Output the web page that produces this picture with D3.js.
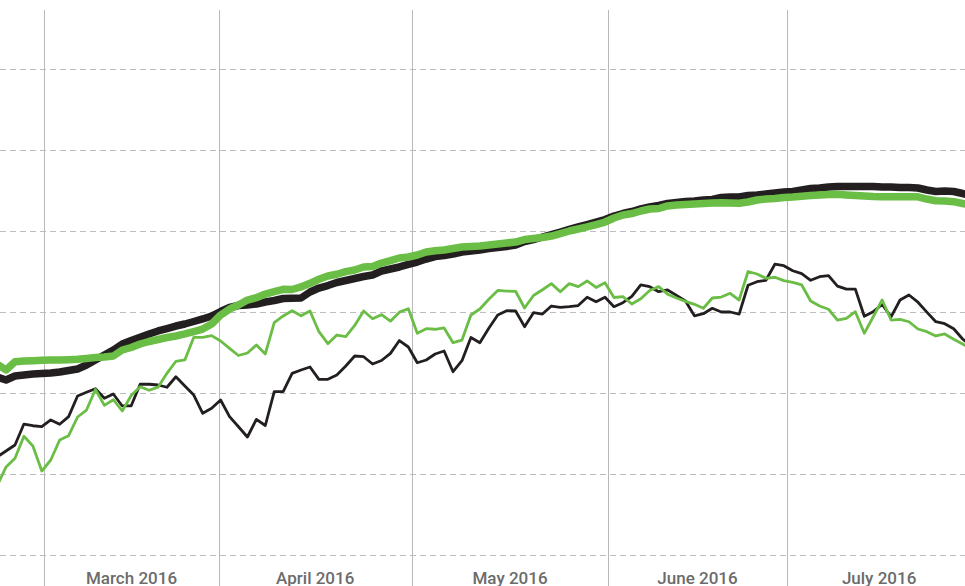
<!DOCTYPE html>
<html>
<head>
<meta charset="utf-8">
<script src="https://cdn.jsdelivr.net/npm/d3@7"></script>
<style>
  html, body { margin: 0; padding: 0; background: #ffffff; }
  svg { display: block; }
</style>
</head>
<body>
<div id="chart"></div>
<script>
// ---- data (index = trading-day position along the x axis) ----
const thinBlack = [12.16,12.90,13.64,16.23,16.02,15.90,16.73,16.20,17.14,19.69,
  20.15,20.59,19.41,19.94,18.46,18.49,21.14,21.14,21.05,20.77,
  22.07,20.93,19.81,17.56,18.17,19.20,17.14,15.90,14.63,16.81,
  16.05,20.22,20.22,22.49,22.90,23.27,21.75,21.75,22.28,23.40,
  24.63,24.54,23.64,24.07,24.96,26.54,25.74,23.80,24.14,24.88,
  25.25,22.69,24.05,26.91,26.27,28.05,29.69,30.22,30.19,28.25,
  29.98,29.81,30.80,30.64,30.72,30.86,31.88,31.33,31.88,30.72,
  31.21,32.00,33.40,33.19,32.57,32.78,32.12,31.42,29.59,29.85,
  30.52,30.06,30.06,29.79,33.36,33.80,33.98,35.96,35.78,35.15,
  34.79,33.98,34.42,34.56,33.25,32.88,32.88,29.53,30.10,30.99,
  29.47,31.54,32.16,31.27,30.04,28.86,28.62,27.99,26.73,25.86];

const thinGreen = [8.58,10.93,12.00,14.72,13.52,10.43,11.79,14.26,14.79,17.10,
  17.96,20.49,18.54,19.23,17.84,19.75,20.84,20.40,20.78,22.49,
  23.98,24.14,26.94,26.94,27.14,26.48,25.58,24.69,25.00,25.99,
  24.88,28.74,29.57,30.22,29.60,30.19,27.63,26.15,27.22,27.01,
  28.40,30.19,29.23,29.73,28.93,30.04,30.47,27.43,28.00,27.93,
  28.09,26.27,26.60,29.69,30.43,31.63,32.72,32.65,32.62,30.56,
  32.10,32.81,33.56,32.57,33.56,33.19,33.89,33.09,33.68,31.85,
  31.95,31.05,31.70,32.72,33.19,32.26,31.79,31.38,31.01,30.52,
  31.79,31.91,32.37,31.54,35.06,34.75,34.22,34.35,33.93,33.73,
  33.40,31.42,30.80,30.40,29.07,29.28,30.10,27.43,29.48,31.54,
  29.07,29.16,28.86,27.96,27.63,27.10,27.35,26.69,26.11,25.49];

const thickGreen = [23.64,22.90,23.93,24.01,24.05,24.10,24.14,24.14,24.17,24.22,
  24.32,24.44,24.51,24.63,25.37,25.68,26.11,26.42,26.67,26.91,
  27.10,27.35,27.65,27.96,28.58,29.69,30.43,30.93,31.54,31.83,
  32.28,32.57,32.86,32.84,33.15,33.60,34.10,34.51,34.72,35.04,
  35.25,35.62,35.68,36.11,36.40,36.73,36.85,37.10,37.47,37.63,
  37.72,37.90,38.09,38.15,38.21,38.33,38.46,38.58,38.70,39.01,
  39.14,39.26,39.44,39.75,40.06,40.31,40.56,40.86,41.17,41.67,
  42.04,42.22,42.53,42.78,42.84,43.15,43.27,43.33,43.40,43.46,
  43.52,43.56,43.52,43.48,43.64,43.89,44.01,44.07,44.20,44.26,
  44.35,44.44,44.51,44.57,44.59,44.51,44.44,44.38,44.32,44.30,
  44.30,44.30,44.30,44.28,44.01,43.80,43.77,43.68,43.46,43.27];

const thickBlack = [22.04,21.67,22.16,22.28,22.41,22.47,22.53,22.65,22.84,23.02,
  23.52,24.14,24.75,25.37,26.11,26.54,26.94,27.35,27.72,28.02,
  28.33,28.58,28.89,29.20,29.57,30.12,30.62,30.86,30.93,31.05,
  31.30,31.48,31.73,31.75,31.79,32.53,33.02,33.33,33.70,33.95,
  34.20,34.44,34.63,35.12,35.37,35.62,35.93,36.23,36.60,36.91,
  37.04,37.22,37.47,37.59,37.72,37.90,38.02,38.15,38.33,38.77,
  39.01,39.32,39.63,39.94,40.25,40.56,40.86,41.17,41.48,41.91,
  42.22,42.47,42.78,43.02,43.21,43.46,43.58,43.70,43.77,43.89,
  43.95,44.20,44.26,44.26,44.44,44.50,44.62,44.75,44.88,44.94,
  45.12,45.31,45.37,45.49,45.56,45.56,45.56,45.56,45.56,45.49,
  45.49,45.43,45.43,45.37,45.12,44.94,45.00,44.94,44.69,44.44];

// month boundaries, in index units along the x axis
const monthBounds = [5.28, 24.79, 46.38, 68.37, 88.32, 109.0];
const monthLabels = ["March 2016", "April 2016", "May 2016", "June 2016", "July 2016"];
const yTicks = [0, 10, 20, 30, 40, 50, 60];

// ---- layout ----
const W = 965, H = 586;
const plotTop = 10;

const svg = d3.select("#chart").append("svg")
  .attr("width", W).attr("height", H)
  .attr("viewBox", `0 0 ${W} ${H}`);

svg.append("rect").attr("width", W).attr("height", H).attr("fill", "#ffffff");

const x = d3.scaleLinear().domain([0, 109]).range([-2.9, 971.56]);
const y = d3.scaleLinear().domain([0, 60]).range([555.5, 69.5]);

svg.append("defs").append("clipPath").attr("id", "clip")
  .append("rect").attr("x", 0).attr("y", plotTop).attr("width", W).attr("height", H - plotTop);

// horizontal dashed grid
svg.append("g").selectAll("line").data(yTicks).join("line")
  .attr("x1", 0).attr("x2", W)
  .attr("y1", d => y(d)).attr("y2", d => y(d))
  .attr("stroke", "#bdbdbd").attr("stroke-width", 1)
  .attr("stroke-dasharray", "6,4")
  .attr("shape-rendering", "crispEdges");

// vertical month grid
svg.append("g").selectAll("line").data(monthBounds).join("line")
  .attr("x1", d => Math.round(x(d)) + 0.5).attr("x2", d => Math.round(x(d)) + 0.5)
  .attr("y1", plotTop).attr("y2", H)
  .attr("stroke", "#b8b8b8").attr("stroke-width", 1)
  .attr("shape-rendering", "crispEdges");

// month labels, centred in each month band
svg.append("g").selectAll("text").data(monthLabels).join("text")
  .attr("x", (d, i) => (x(monthBounds[i]) + x(monthBounds[i + 1])) / 2)
  .attr("y", 583.5)
  .attr("text-anchor", "middle")
  .attr("font-family", "Roboto, 'DejaVu Sans Condensed', sans-serif")
  .attr("font-weight", 500)
  .attr("font-size", "17px")
  .attr("fill", "#6b6b6b")
  .text(d => d);

const line = d3.line().x((d, i) => x(i)).y(d => y(d));

const g = svg.append("g").attr("clip-path", "url(#clip)");
const series = [
  { values: thickBlack, color: "#231f20", width: 7.5 },
  { values: thickGreen, color: "#6abd45", width: 7.5 },
  { values: thinBlack, color: "#231f20", width: 2.8 },
  { values: thinGreen, color: "#6abd45", width: 2.8 }
];
g.selectAll("path").data(series).join("path")
  .attr("d", d => line(d.values))
  .attr("fill", "none")
  .attr("stroke", d => d.color)
  .attr("stroke-width", d => d.width)
  .attr("stroke-linejoin", "round")
  .attr("stroke-linecap", "butt");
</script>
</body>
</html>
